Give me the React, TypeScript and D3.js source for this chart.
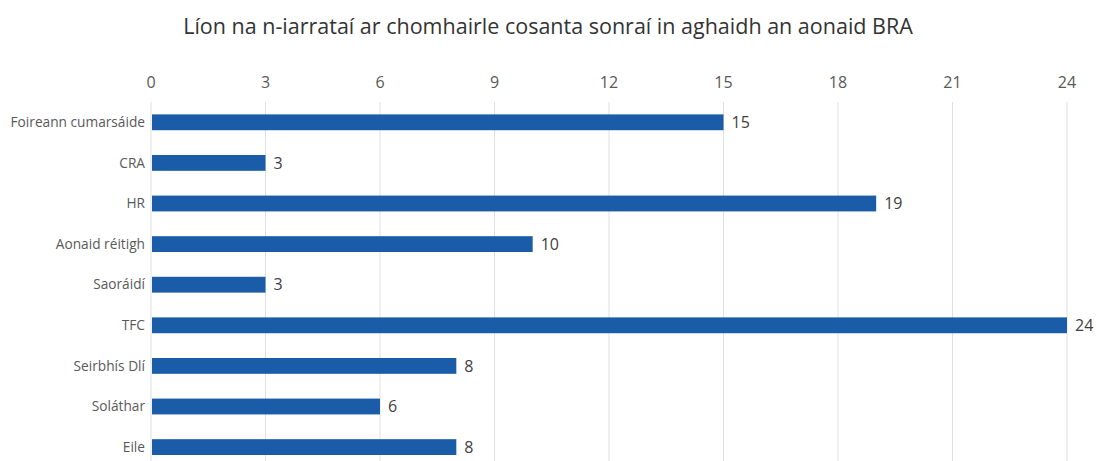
import React, { useEffect, useRef } from 'react';
import * as d3 from 'd3';

const categories = ['Foireann cumarsáide', 'CRA', 'HR', 'Aonaid réitigh', 'Saoráidí', 'TFC', 'Seirbhís Dlí', 'Soláthar', 'Eile'];
const values = [15, 3, 19, 10, 3, 24, 8, 6, 8];
const ticks = [0, 3, 6, 9, 12, 15, 18, 21, 24];
const title = 'Líon na n-iarrataí ar chomhairle cosanta sonraí in aghaidh an aonaid BRA';

const App: React.FC = () => {
  const svgRef = useRef<SVGSVGElement>(null);
  const width = 1096;
  const height = 461;

  useEffect(() => {
    if (!svgRef.current) return;
    const svg = d3.select(svgRef.current);
    svg.selectAll('*').remove();

    const font = '"Open Sans", sans-serif';
    const margin = { top: 102, left: 151, right: 29 };

    const x = d3.scaleLinear().domain([0, 24]).range([margin.left, width - margin.right]);
    const y = d3.scaleBand()
      .domain(categories)
      .range([margin.top, margin.top + 40.6 * 9])
      .paddingInner(0.61)
      .paddingOuter(0.305);

    svg.append('text')
      .attr('x', width / 2)
      .attr('y', 34)
      .attr('text-anchor', 'middle')
      .style('font-family', font)
      .style('font-size', '21.5px')
      .style('fill', '#333')
      .text(title);

    // gridlines
    svg.append('g')
      .selectAll('line')
      .data(ticks)
      .enter().append('line')
      .attr('x1', d => x(d))
      .attr('x2', d => x(d))
      .attr('y1', margin.top)
      .attr('y2', height)
      .style('stroke', '#e0e0e0')
      .style('stroke-width', 1);

    // top tick labels
    svg.append('g')
      .selectAll('text')
      .data(ticks)
      .enter().append('text')
      .attr('x', d => x(d))
      .attr('y', 88)
      .attr('text-anchor', 'middle')
      .style('font-family', font)
      .style('font-size', '16px')
      .style('fill', '#595959')
      .text(d => d);

    // bars
    svg.append('g')
      .selectAll('rect')
      .data(values)
      .enter().append('rect')
      .attr('x', x(0) + 1)
      .attr('y', (_, i) => y(categories[i]) || 0)
      .attr('width', d => x(d) - x(0) - 1)
      .attr('height', y.bandwidth())
      .style('fill', '#1b5ca8');

    // value labels
    svg.append('g')
      .selectAll('text')
      .data(values)
      .enter().append('text')
      .attr('x', d => x(d) + 8)
      .attr('y', (_, i) => (y(categories[i]) || 0) + y.bandwidth() / 2)
      .attr('dy', '0.35em')
      .style('font-family', font)
      .style('font-size', '16px')
      .style('fill', '#404040')
      .text(d => d);

    // category labels
    svg.append('g')
      .selectAll('text')
      .data(categories)
      .enter().append('text')
      .attr('x', margin.left - 6)
      .attr('y', d => (y(d) || 0) + y.bandwidth() / 2)
      .attr('dy', '0.35em')
      .attr('text-anchor', 'end')
      .style('font-family', font)
      .style('font-size', '13.7px')
      .style('fill', '#595959')
      .text(d => d);
  }, []);

  return (
    <div style={{ position: 'fixed', left: 0, top: 0, width, height, background: '#fff' }}>
      <svg ref={svgRef} width={width} height={height} style={{ display: 'block' }} />
    </div>
  );
};

export default App;
